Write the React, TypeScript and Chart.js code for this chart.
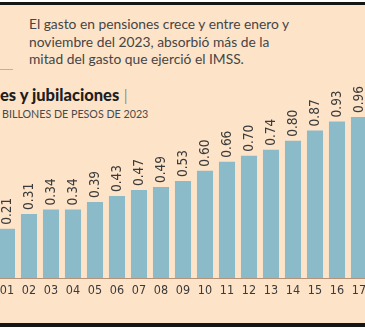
import React, { useEffect, useRef } from "react";
import { Chart, registerables } from "chart.js";

Chart.register(...registerables);

const categories = ["01", "02", "03", "04", "05", "06", "07", "08", "09", "10", "11", "12", "13", "14", "15", "16", "17"];
const pensionValues = [0.21, 0.31, 0.34, 0.34, 0.39, 0.43, 0.47, 0.49, 0.53, 0.6, 0.66, 0.7, 0.74, 0.8, 0.87, 0.93, 0.96];
const valueLabels = ["0.21", "0.31", "0.34", "0.34", "0.39", "0.43", "0.47", "0.49", "0.53", "0.60", "0.66", "0.70", "0.74", "0.80", "0.87", "0.93", "0.96"];

const NARROW = "'Liberation Sans Narrow', 'DejaVu Sans Condensed', 'Roboto', sans-serif";

const labelPlugin = {
  id: "labelPlugin",
  afterDatasetsDraw(chart: any) {
    const { ctx, chartArea } = chart;
    const meta = chart.getDatasetMeta(0);
    ctx.save();
    ctx.strokeStyle = "#b59378";
    ctx.lineWidth = 1;
    ctx.beginPath();
    ctx.moveTo(chartArea.left, Math.round(chartArea.bottom) + 0.5);
    ctx.lineTo(chartArea.right, Math.round(chartArea.bottom) + 0.5);
    ctx.stroke();
    ctx.fillStyle = "#3b3b3b";
    meta.data.forEach((bar: any, i: number) => {
      ctx.font = `12.5px ${NARROW}`;
      ctx.textAlign = "center";
      ctx.textBaseline = "middle";
      ctx.fillText(categories[i], bar.x, chartArea.bottom + 13);
      ctx.save();
      ctx.translate(bar.x, bar.y - 4);
      ctx.rotate(-Math.PI / 2);
      ctx.font = `13.5px ${NARROW}`;
      ctx.textAlign = "left";
      ctx.textBaseline = "middle";
      ctx.fillText(valueLabels[i], 0, 0);
      ctx.restore();
    });
    ctx.restore();
  },
};

export default function App() {
  const ref = useRef<HTMLCanvasElement>(null);
  useEffect(() => {
    if (!ref.current) return;
    const chart = new Chart(ref.current, {
      type: "bar",
      data: {
        labels: categories,
        datasets: [
          {
            data: pensionValues,
            backgroundColor: "#8bbbc9",
            borderWidth: 0,
            base: -0.12,
            categoryPercentage: 1,
            barPercentage: 0.73,
          } as any,
        ],
      },
      options: {
        animation: false,
        responsive: false,
        maintainAspectRatio: false,
        layout: { padding: { top: 111, bottom: 52, left: 0, right: 0 } },
        plugins: { legend: { display: false }, tooltip: { enabled: false } },
        scales: {
          x: { display: false },
          y: { display: false, min: -0.12, max: 1.0 },
        },
      },
      plugins: [labelPlugin],
    });
    return () => chart.destroy();
  }, []);

  return (
    <div
      style={{
        position: "fixed",
        left: 0,
        top: 0,
        width: 365,
        height: 330,
        overflow: "hidden",
        background: "#ffffff",
      }}
    >
      <div style={{ position: "absolute", left: 0, top: 2, width: 365, height: 3, background: "#151515" }} />
      <div style={{ position: "absolute", left: 0, top: 5, width: 365, height: 318, background: "#fde3c8" }} />
      <div style={{ position: "absolute", left: 0, top: 323, width: 365, height: 4, background: "#151515" }} />
      <div style={{ position: "absolute", left: 0, top: 69, width: 13, height: 1, background: "#b9b2aa" }} />
      <div
        style={{
          position: "absolute",
          left: 29,
          top: 15,
          width: 335,
          fontFamily: "Lato, sans-serif",
          fontSize: 13.8,
          lineHeight: "17.5px",
          color: "#454545",
        }}
      >
        El gasto en pensiones crece y entre enero y<br />
        noviembre del 2023, absorbió más de la<br />
        mitad del gasto que ejerció el IMSS.
      </div>
      <div
        style={{
          position: "absolute",
          left: 0,
          top: 85,
          whiteSpace: "nowrap",
          fontFamily: "Lato, sans-serif",
          fontSize: 16.5,
          color: "#1e1e1e",
        }}
      >
        <span style={{ fontWeight: 900 }}>es y jubilaciones</span>
        <span style={{ fontWeight: 300, color: "#555" }}> |</span>
      </div>
      <div
        style={{
          position: "absolute",
          left: 2,
          top: 107,
          whiteSpace: "nowrap",
          fontFamily: "Lato, sans-serif",
          fontSize: 10.7,
          color: "#4a4a4a",
        }}
      >
        BILLONES DE PESOS DE 2023
      </div>
      <canvas
        ref={ref}
        width={374}
        height={330}
        style={{ position: "absolute", left: -4, top: 0, width: 374, height: 330 }}
      />
    </div>
  );
}
